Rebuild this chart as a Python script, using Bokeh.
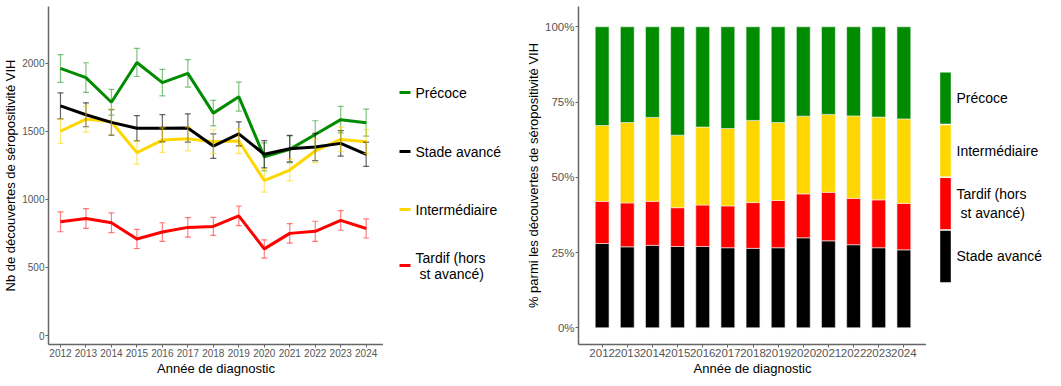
from bokeh.plotting import figure
from bokeh.models import (ColumnDataSource, Whisker, TeeHead, FixedTicker,
                          NumeralTickFormatter, Range1d)
from bokeh.core.properties import value
from bokeh.layouts import row
from bokeh.embed import file_html
from bokeh.resources import INLINE

years = [2012, 2013, 2014, 2015, 2016, 2017, 2018, 2019, 2020, 2021, 2022, 2023, 2024]

# Left chart: counts
precoce = [1961, 1894, 1713, 2005, 1857, 1925, 1633, 1754, 1312, 1367, 1476, 1585, 1563]
precoce_err = [102, 109, 94, 103, 97, 101, 93, 106, 103, 98, 101, 97, 99]
avance = [1686, 1621, 1565, 1522, 1522, 1524, 1391, 1481, 1331, 1372, 1384, 1411, 1331]
avance_err = [95, 88, 94, 93, 100, 104, 90, 88, 100, 97, 100, 93, 89]
interm = [1500, 1589, 1570, 1343, 1435, 1444, 1423, 1428, 1138, 1215, 1355, 1440, 1423]
interm_err = [90, 95, 92, 85, 90, 88, 88, 90, 85, 80, 85, 90, 88]
tardif = [835, 859, 828, 709, 760, 794, 801, 879, 636, 750, 765, 845, 786]
tardif_err = [73, 73, 72, 70, 68, 72, 66, 72, 67, 72, 74, 72, 70]

# Right chart: shares (fraction of total)
pct_avance = [0.280, 0.269, 0.274, 0.270, 0.270, 0.266, 0.264, 0.266, 0.299, 0.289, 0.276, 0.266, 0.259]
pct_tardif = [0.140, 0.146, 0.146, 0.129, 0.138, 0.139, 0.152, 0.157, 0.146, 0.161, 0.154, 0.159, 0.154]
pct_interm = [0.252, 0.267, 0.279, 0.241, 0.259, 0.257, 0.273, 0.259, 0.258, 0.259, 0.274, 0.275, 0.281]
pct_precoce = [0.328, 0.318, 0.301, 0.360, 0.333, 0.338, 0.311, 0.318, 0.297, 0.291, 0.296, 0.300, 0.306]

lbl_precoce = "Précoce"
lbl_avance = "Stade avancé"
lbl_interm = "Intermédiaire"
lbl_tardif = "Tardif (hors\n\u00a0st avancé)"

GREEN = "#008B00"
BLACK = "#000000"
GOLD = "#FFD700"
RED = "#FF0000"
FONT = "Liberation Sans"
TICKC = "#555555"
AXC = "#666666"
H = 378
TOP, BOTTOM = 6, 34


def style_axes(p, tick_size):
    for ax in (p.xaxis[0], p.yaxis[0]):
        ax.axis_line_color = AXC
        ax.axis_line_width = 1.5
        ax.major_tick_line_color = AXC
        ax.major_tick_out = 3
        ax.major_tick_in = 0
        ax.minor_tick_line_color = None
        ax.major_label_text_font = FONT
        ax.major_label_text_font_size = tick_size
        ax.major_label_text_color = TICKC
        ax.major_label_standoff = 1
        ax.axis_label_text_font = FONT
        ax.axis_label_text_font_size = "13px"
        ax.axis_label_text_font_style = "normal"
        ax.axis_label_text_color = "#000000"
        ax.axis_label_standoff = 1
    p.xgrid.grid_line_color = None
    p.ygrid.grid_line_color = None
    p.outline_line_color = None


def legend_fig(width):
    # screen-like coordinate panel that holds a hand-drawn legend
    f = figure(width=width, height=H, output_backend="svg", toolbar_location=None,
               x_range=Range1d(0, width), y_range=Range1d(H - BOTTOM, TOP),
               min_border_left=0, min_border_right=0,
               min_border_top=TOP, min_border_bottom=BOTTOM)
    f.axis.visible = False
    f.xgrid.grid_line_color = None
    f.ygrid.grid_line_color = None
    f.outline_line_color = None
    return f


# ---------------- Left chart ----------------
p1 = figure(width=383, height=H, output_backend="svg", toolbar_location=None,
            x_range=Range1d(2011.53, 2024.68), y_range=Range1d(-66, 2416),
            min_border_left=36, min_border_right=0,
            min_border_top=TOP, min_border_bottom=BOTTOM)

series = [
    (lbl_precoce, precoce, precoce_err, GREEN, 0.5),
    (lbl_avance, avance, avance_err, BLACK, 0.6),
    (lbl_interm, interm, interm_err, GOLD, 0.6),
    (lbl_tardif, tardif, tardif_err, RED, 0.5),
]
for name, vals, errs, col, ea in series:
    src = ColumnDataSource(dict(x=years, y=vals,
                                lower=[v - e for v, e in zip(vals, errs)],
                                upper=[v + e for v, e in zip(vals, errs)]))
    w = Whisker(source=src, base="x", upper="upper", lower="lower", dimension="height",
                line_color=col, line_alpha=ea, line_width=1.2, level="glyph",
                upper_head=TeeHead(size=6, line_color=col, line_alpha=ea, line_width=1.2),
                lower_head=TeeHead(size=6, line_color=col, line_alpha=ea, line_width=1.2))
    p1.add_layout(w)

for name, vals, errs, col, ea in [series[2], series[3], series[0], series[1]]:
    src = ColumnDataSource(dict(x=years, y=vals))
    p1.line("x", "y", source=src, line_color=col, line_width=3)

p1.xaxis.ticker = FixedTicker(ticks=years)
p1.yaxis.ticker = FixedTicker(ticks=[0, 500, 1000, 1500, 2000])
p1.xaxis.axis_label = "Année de diagnostic"
p1.yaxis.axis_label = "Nb de découvertes de séropositivité VIH"
style_axes(p1, "10px")

# Left legend panel (lines)
lg1 = legend_fig(139)
leg1_labels = [lbl_precoce, lbl_avance, lbl_interm, lbl_tardif]
leg1_colors = [GREEN, BLACK, GOLD, RED]
leg1_y = [92, 151, 209, 265]
lg1.segment(x0=16, x1=27, y0=leg1_y, y1=leg1_y, line_color=leg1_colors, line_width=3)
lg1.text(x=32, y=leg1_y, text=leg1_labels, text_font=value(FONT), text_font_size="14px",
         text_color="#000000", text_baseline="middle", text_align="left",
         text_line_height=1.0)

# ---------------- Right chart ----------------
p2 = figure(width=404, height=H, output_backend="svg", toolbar_location=None,
            x_range=Range1d(2011.06, 2024.9), y_range=Range1d(-0.0555, 1.0674),
            min_border_left=56, min_border_right=0,
            min_border_top=TOP, min_border_bottom=BOTTOM)

src2 = ColumnDataSource(dict(x=years, avance=pct_avance, tardif=pct_tardif,
                             interm=pct_interm, precoce=pct_precoce))
p2.vbar_stack(["avance", "tardif", "interm", "precoce"], x="x", width=0.55, source=src2,
              color=[BLACK, RED, GOLD, GREEN], line_color="#F2F2F2", line_width=0.6)

p2.xaxis.ticker = FixedTicker(ticks=years)
p2.yaxis.ticker = FixedTicker(ticks=[0, 0.25, 0.5, 0.75, 1.0])
p2.yaxis.formatter = NumeralTickFormatter(format="0%")
p2.xaxis.axis_label = "Année de diagnostic"
p2.yaxis.axis_label = "% parmi les découvertes de séropositivité VIH"
style_axes(p2, "11.5px")

# Right legend panel (colour boxes)
lg2 = legend_fig(119)
leg2_labels = [lbl_precoce, lbl_interm, lbl_tardif, lbl_avance]
leg2_colors = [GREEN, GOLD, RED, BLACK]
leg2_top = [72, 124.8, 177.5, 230.2]
leg2_bottom = [123.3, 176, 228.7, 281.7]
lg2.quad(left=13.7, right=24.3, top=leg2_top, bottom=leg2_bottom,
         fill_color=leg2_colors, line_color=None)
lg2.text(x=30, y=[(t + b) / 2 for t, b in zip(leg2_top, leg2_bottom)], text=leg2_labels,
         text_font=value(FONT), text_font_size="14px", text_color="#000000",
         text_baseline="middle", text_align="left", text_line_height=1.15)

layout = row(p1, lg1, p2, lg2)
open("out.html", "w").write(file_html(layout, INLINE))
